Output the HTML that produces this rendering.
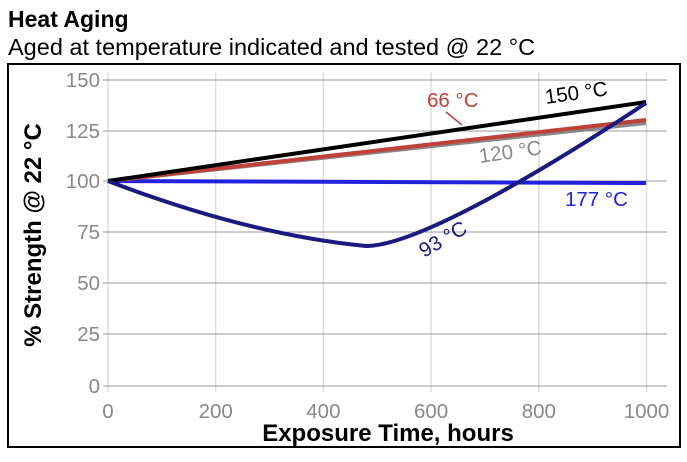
<!DOCTYPE html>
<html><head><style>body{margin:0;background:#fff}</style></head><body>
<svg width="687" height="457" xmlns="http://www.w3.org/2000/svg" font-family="Liberation Sans, sans-serif">
<text x="8" y="27" font-size="23" font-weight="bold">Heat Aging</text>
<text x="8" y="55" font-size="23.5">Aged at temperature indicated and tested @ 22 °C</text>
<rect x="8" y="64" width="672" height="383" fill="none" stroke="#000" stroke-width="2"/>
<g stroke="#ddd" stroke-width="1.5">
<line x1="108" y1="72" x2="108" y2="392"/><line x1="215.7" y1="72" x2="215.7" y2="392"/><line x1="323.4" y1="72" x2="323.4" y2="392"/><line x1="431.1" y1="72" x2="431.1" y2="392"/><line x1="538.8" y1="72" x2="538.8" y2="392"/><line x1="646.5" y1="72" x2="646.5" y2="392"/>
</g>
<g stroke="#999" stroke-width="1">
<line x1="103" y1="80" x2="667" y2="80"/><line x1="103" y1="131" x2="667" y2="131"/><line x1="103" y1="181" x2="667" y2="181"/><line x1="103" y1="232" x2="667" y2="232"/><line x1="103" y1="283" x2="667" y2="283"/><line x1="103" y1="334" x2="667" y2="334"/><line x1="103" y1="386" x2="667" y2="386"/>
</g>
<g font-size="20.5" fill="#888" text-anchor="end">
<text x="100" y="87">150</text><text x="100" y="138">125</text><text x="100" y="188">100</text><text x="100" y="239">75</text><text x="100" y="290">50</text><text x="100" y="341">25</text><text x="100" y="393">0</text>
</g>
<g font-size="20.5" fill="#888" text-anchor="middle">
<text x="108" y="418">0</text><text x="215.7" y="418">200</text><text x="323.4" y="418">400</text><text x="431.1" y="418">600</text><text x="538.8" y="418">800</text><text x="646.5" y="418">1000</text>
</g>
<text x="388" y="441" font-size="24" font-weight="bold" text-anchor="middle">Exposure Time, hours</text>
<text transform="translate(41,235) rotate(-90)" font-size="24" font-weight="bold" text-anchor="middle">% Strength @ 22 °C</text>
<g fill="none" stroke-width="4">
<line x1="108" y1="181" x2="646" y2="183" stroke="#2222dd"/>
<line x1="108" y1="181" x2="646" y2="123" stroke="#888"/>
<line x1="108" y1="181" x2="646" y2="120" stroke="#c0403a"/>
<line x1="108" y1="181" x2="646" y2="102" stroke="#000"/>
<path d="M108 181 Q250 235 366 246 C 420 246, 560 160, 646 103" stroke="#1a1a80"/>
</g>
<line x1="446" y1="112" x2="462" y2="125" stroke="#c0403a" stroke-width="1.5"/>
<g font-size="20.5">
<text x="427" y="107" fill="#c0403a">66 °C</text>
<text x="546" y="104" fill="#000" transform="rotate(-8 546 104)">150 °C</text>
<text x="480" y="163" fill="#888" transform="rotate(-8 480 163)">120 °C</text>
<text x="565" y="206" fill="#2222dd">177 °C</text>
<text x="424" y="258" fill="#1a1a80" transform="rotate(-30 424 258)">93 °C</text>
</g>
</svg>
</body></html>
